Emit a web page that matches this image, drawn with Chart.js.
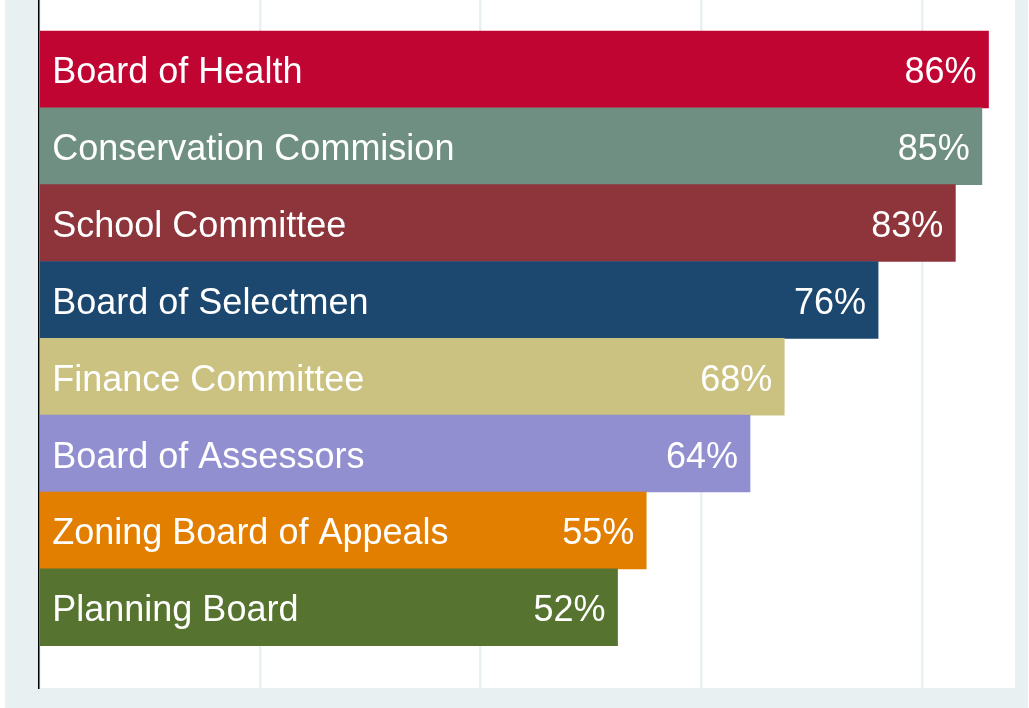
<!DOCTYPE html>
<html>
<head>
<meta charset="utf-8">
<script src="https://cdn.jsdelivr.net/npm/chart.js@4.4.1/dist/chart.umd.min.js"></script>
<style>
  html, body { margin: 0; padding: 0; background: #ffffff; }
  .wrap { position: absolute; left: 5px; top: 0; width: 1023px; height: 708px; background: #e8f0f2; }
  canvas { display: block; }
</style>
</head>
<body>
<div class="wrap"><canvas id="chart"></canvas></div>
<script>
const categories = [
  "Board of Health",
  "Conservation Commision",
  "School Committee",
  "Board of Selectmen",
  "Finance Committee",
  "Board of Assessors",
  "Zoning Board of Appeals",
  "Planning Board",
];
const values = [86.0, 85.4, 83.0, 76.0, 67.5, 64.4, 55.0, 52.4];
const valueLabels = ["86%", "85%", "83%", "76%", "68%", "64%", "55%", "52%"];
const barColors = ["#c10533", "#6f8f82", "#8e353c", "#1c476e", "#cbc282", "#928fd1", "#e27e00", "#567430"];
const gridTicks = [0, 20, 40, 60, 80];

const FONT = '"Liberation Sans", Arial, sans-serif';

const plotBackground = {
  id: "plotBackground",
  beforeDraw(chart) {
    const { ctx, chartArea: a } = chart;
    ctx.save();
    ctx.fillStyle = "#ffffff";
    ctx.fillRect(a.left, a.top, a.right - a.left, a.bottom - a.top);
    ctx.restore();
  },
};

const barText = {
  id: "barText",
  afterDatasetsDraw(chart) {
    const { ctx } = chart;
    const meta = chart.getDatasetMeta(0);
    ctx.save();
    ctx.fillStyle = "#ffffff";
    ctx.font = `36px ${FONT}`;
    ctx.textBaseline = "alphabetic";
    meta.data.forEach((bar, i) => {
      const y = bar.y + 14;
      ctx.textAlign = "left";
      ctx.fillText(categories[i], bar.base + 12, y);
      ctx.textAlign = "right";
      ctx.fillText(valueLabels[i], bar.x - 12, y);
    });
    ctx.restore();
  },
};

new Chart(document.getElementById("chart"), {
  type: "bar",
  data: {
    datasets: [{
      data: values.map((v, i) => ({ x: v, y: i })),
      backgroundColor: barColors,
      borderWidth: 0,
      categoryPercentage: 1,
      barPercentage: 1,
    }],
  },
  options: {
    indexAxis: "y",
    responsive: true,
    maintainAspectRatio: false,
    animation: false,
    layout: { padding: { left: 34, right: 13, top: 0, bottom: 20 } },
    plugins: { legend: { display: false }, tooltip: { enabled: false } },
    scales: {
      x: {
        type: "linear",
        min: 0,
        max: 88.4,
        afterBuildTicks(scale) {
          scale.ticks = gridTicks.map((v) => ({ value: v }));
        },
        ticks: { display: false },
        grid: { color: "#e8f0f2", lineWidth: 2.5, drawTicks: false },
        border: { display: false },
      },
      y: {
        type: "linear",
        reverse: true,
        offset: false,
        min: -0.903,
        max: 8.05,
        afterBuildTicks(scale) {
          scale.ticks = categories.map((c, i) => ({ value: i }));
        },
        ticks: { display: false },
        grid: { display: false, drawTicks: false },
        border: { display: true, color: "#000000", width: 1.5 },
      },
    },
  },
  plugins: [plotBackground, barText],
});
</script>
</body>
</html>
